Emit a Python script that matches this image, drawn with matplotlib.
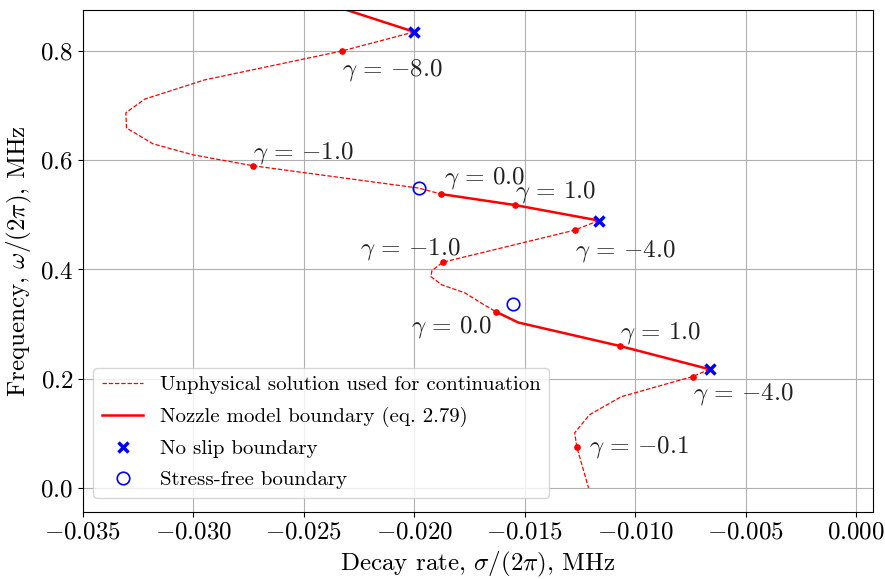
import matplotlib
matplotlib.use("Agg")
from matplotlib import pyplot as plt

plt.rcParams['font.family'] = 'serif'
plt.rcParams['font.serif'] = ['cmr10', 'DejaVu Serif']
plt.rcParams['mathtext.fontset'] = 'cm'
plt.rcParams['axes.formatter.use_mathtext'] = True
plt.rcParams['font.size'] = 18

# unphysical branches (dashed), decay rate / frequency in MHz
dash1_x = [-0.0200, -0.02328, -0.0295, -0.0322, -0.03306, -0.03303, -0.03183, -0.03003, -0.02732, -0.0198, -0.01878]
dash1_y = [0.835, 0.800, 0.747, 0.712, 0.687, 0.659, 0.630, 0.610, 0.590, 0.549, 0.538]
dash2_x = [-0.01165, -0.01274, -0.01871, -0.0192, -0.01925, -0.01876, -0.01770, -0.01695, -0.01632]
dash2_y = [0.4896, 0.472, 0.4133, 0.398, 0.387, 0.372, 0.357, 0.338, 0.323]
dash3_x = [-0.00663, -0.00740, -0.01064, -0.01207, -0.01274, -0.01264, -0.01211]
dash3_y = [0.2173, 0.204, 0.167, 0.134, 0.101, 0.0745, 0.0]

# nozzle model branches (solid)
solid1_x = [-0.0265, -0.0200]
solid1_y = [0.92, 0.835]
solid2_x = [-0.01878, -0.01545, -0.01165]
solid2_y = [0.538, 0.518, 0.4896]
solid3_x = [-0.01632, -0.0153, -0.0107, -0.00663]
solid3_y = [0.323, 0.303, 0.260, 0.2173]

noslip_x = [-0.0200, -0.01165, -0.00663]
noslip_y = [0.835, 0.4896, 0.2173]
free_x = [-0.0198, -0.01552]
free_y = [0.549, 0.336]

gamma_vals = [-8.0, -1.0, 0.0, 1.0, -4.0, -1.0, 0.0, 1.0, -4.0, -0.1]
gamma_x = [-0.02328, -0.02732, -0.01878, -0.01545, -0.01274, -0.01871, -0.01632, -0.0107, -0.00740, -0.01264]
gamma_y = [0.800, 0.590, 0.538, 0.518, 0.472, 0.4133, 0.323, 0.260, 0.204, 0.0745]
# label placement (offset in points, horizontal / vertical alignment)
label_pos = [((0, -4), 'left', 'top'), ((0, 0), 'left', 'bottom'), ((2, 2), 'left', 'bottom'),
             ((0, 0), 'left', 'bottom'), ((0, -6), 'left', 'top'), ((13, 0), 'right', 'bottom'),
             ((-2, -2), 'right', 'top'), ((0, 0), 'left', 'bottom'), ((0, -3), 'left', 'top'),
             ((9, 0), 'left', 'center')]

fig = plt.figure(figsize=(8.85, 5.79), dpi=100)
ax = fig.add_axes([0.0938, 0.1157, 0.8927, 0.867])
ax.grid(True, color='#b0b0b0', linewidth=0.8)
ax.set_axisbelow(True)

for i, (xs, ys) in enumerate([(dash1_x, dash1_y), (dash2_x, dash2_y), (dash3_x, dash3_y)]):
    ax.plot(xs, ys, 'r--', linewidth=0.9, dashes=(3.5, 1.5),
            label='Unphysical solution used for continuation' if i == 0 else None)
for i, (xs, ys) in enumerate([(solid1_x, solid1_y), (solid2_x, solid2_y), (solid3_x, solid3_y)]):
    ax.plot(xs, ys, 'r-', linewidth=1.8,
            label='Nozzle model boundary (eq. 2.79)' if i == 0 else None)
ax.plot(gamma_x, gamma_y, 'o', color='red', markersize=3.8, linestyle='none')
ax.plot(noslip_x, noslip_y, 'x', color='blue', markersize=6.5, markeredgewidth=2.5,
        linestyle='none', label='No slip boundary')
ax.plot(free_x, free_y, 'o', markerfacecolor='none', markeredgecolor='blue', markersize=9,
        markeredgewidth=1.2, linestyle='none', label='Stress-free boundary')

for g, gx, gy, (off, ha, va) in zip(gamma_vals, gamma_x, gamma_y, label_pos):
    ax.annotate(r'$\gamma \,=\, {%.1f}$' % g, (gx, gy), xytext=off, textcoords='offset points',
                ha=ha, va=va, fontsize=18, color='#222222')

ax.set_xlim(-0.035, 0.00077)
ax.set_ylim(-0.044, 0.875)
ax.set_xticks([-0.035, -0.030, -0.025, -0.020, -0.015, -0.010, -0.005, 0.0])
ax.set_xticklabels([r'$%.3f$' % v if v != 0 else r'$0.000$' for v in ax.get_xticks()])
ax.set_yticks([0.0, 0.2, 0.4, 0.6, 0.8])
ax.set_yticklabels([r'$%.1f$' % v for v in [0.0, 0.2, 0.4, 0.6, 0.8]])
ax.set_xlabel(r'Decay rate, $\sigma/(2\pi)$, MHz')
ax.set_ylabel(r'Frequency, $\omega/(2\pi)$, MHz')
ax.legend(loc='lower left', fontsize=15, labelspacing=0.6, bbox_to_anchor=(0, 0.008))

fig.savefig('out.png', dpi=100)
